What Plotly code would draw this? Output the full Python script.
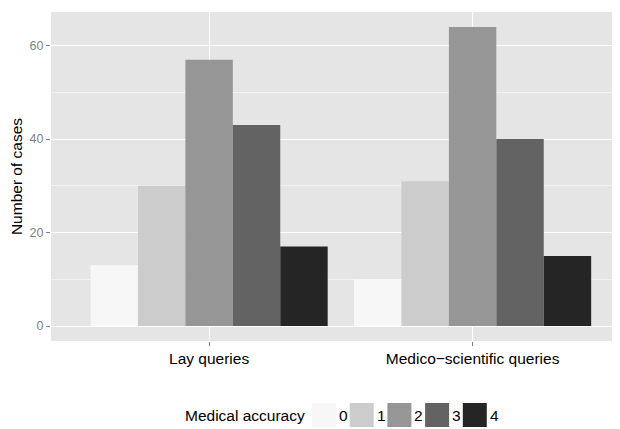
import plotly.graph_objects as go

categories = ["Lay queries", "Medico\u2212scientific queries"]
accuracy_levels = ["0", "1", "2", "3", "4"]
counts = {
    "0": [13, 10],
    "1": [30, 31],
    "2": [57, 64],
    "3": [43, 40],
    "4": [17, 15],
}
colors = ["#F7F7F7", "#CCCCCC", "#969696", "#636363", "#252525"]
y_ticks = [0, 20, 40, 60]

# page body adds an 8px margin; compensate so the panel lands where the reference has it
OFF = 8
W, H = 620 - OFF, 429 - OFF
ML, MR, MT, MB = 51 - OFF, 0, 12 - OFF, 88
PW, PH = W - ML - MR, H - MT - MB
FONT = "Liberation Sans, Arial, Helvetica, sans-serif"

xpos = list(range(len(categories)))
unit_px = 263.5
x0 = -0.6
x1 = x0 + PW / unit_px

fig = go.Figure()
for lvl, col in zip(accuracy_levels, colors):
    fig.add_trace(go.Bar(
        x=xpos, y=counts[lvl], name=lvl,
        marker=dict(color=col, line=dict(width=0)),
        showlegend=False,
    ))

fig.update_layout(
    width=W, height=H,
    margin=dict(l=ML, r=MR, t=MT, b=MB, pad=0),
    paper_bgcolor="white",
    plot_bgcolor="#E5E5E5",
    barmode="group", bargap=0.1, bargroupgap=0,
    font=dict(family=FONT, color="black"),
)
fig.update_xaxes(
    range=[x0, x1], tickvals=xpos, ticktext=categories,
    showgrid=True, gridcolor="white", gridwidth=1.2,
    zeroline=False, showline=False,
    ticks="outside", ticklen=4, tickcolor="#7F7F7F", tickwidth=1,
    ticklabelstandoff=-1,
    tickfont=dict(size=15.5, color="black", family=FONT),
)
fig.update_yaxes(
    range=[-3.2, 67.2], tickvals=y_ticks,
    showgrid=True, gridcolor="white", gridwidth=1.2,
    minor=dict(tickvals=[10, 30, 50], showgrid=True, gridcolor="#F2F2F2", gridwidth=0.6, ticks=""),
    zeroline=False, showline=False,
    ticks="outside", ticklen=4, tickcolor="#7F7F7F", tickwidth=1,
    tickfont=dict(size=12.5, color="#7F7F7F", family=FONT),
    title=dict(text="Number of cases", font=dict(size=15.5, color="black", family=FONT), standoff=4),
)

# custom legend (ggplot-style large keys), positions given in page pixels
def px_to_paper_x(px):
    return (px - OFF - ML) / PW

def py_to_paper_y(py):
    return (H - MB - (py - OFF)) / PH

key_size = 24
key_top = 403
key_start = 312
step = 37.7
fig.add_annotation(
    xref="paper", yref="paper",
    x=px_to_paper_x(key_start - 6), y=py_to_paper_y(key_top + key_size / 2),
    xanchor="right", yanchor="middle", showarrow=False, borderpad=0,
    text="Medical accuracy", font=dict(size=15.5, color="black", family=FONT),
)
for i, (lvl, col) in enumerate(zip(accuracy_levels, colors)):
    kx = key_start + i * step
    fig.add_shape(
        type="rect", xref="paper", yref="paper",
        x0=px_to_paper_x(kx), x1=px_to_paper_x(kx + key_size),
        y0=py_to_paper_y(key_top + key_size), y1=py_to_paper_y(key_top),
        fillcolor=col, line=dict(width=0), layer="above",
    )
    fig.add_annotation(
        xref="paper", yref="paper",
        x=px_to_paper_x(kx + key_size + 2), y=py_to_paper_y(key_top + key_size / 2),
        xanchor="left", yanchor="middle", showarrow=False, borderpad=0,
        text=lvl, font=dict(size=15.5, color="black", family=FONT),
    )

fig.write_html("out.html")
